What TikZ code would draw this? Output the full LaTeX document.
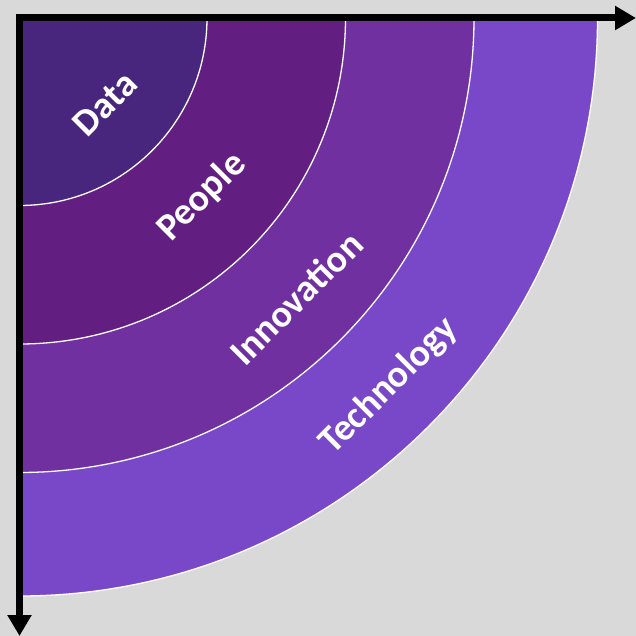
\documentclass[tikz,border=0pt]{standalone}
\usepackage{fontspec}
\setmainfont{Carlito}
\usetikzlibrary{arrows.meta}
\definecolor{bg}{RGB}{217,217,217}
\definecolor{cdata}{RGB}{72,38,125}
\definecolor{cpeople}{RGB}{98,30,128}
\definecolor{cinnov}{RGB}{112,48,160}
\definecolor{ctech}{RGB}{120,72,200}
\tikzset{
  ring/.style={draw=white, line width=1.3pt},
  lbl/.style={text=white, font=\fontsize{38}{38}\selectfont\bfseries, rotate=45, inner sep=0pt},
  axis/.style={line width=7pt, line join=miter, {Triangle[width=23pt,length=21pt]}-{Triangle[width=23pt,length=21pt]}}
}
\begin{document}
\begin{tikzpicture}[x=1pt,y=1pt]
\fill[bg] (0,0) rectangle (636,-636);
\useasboundingbox (0,0) rectangle (636,-636);
\coordinate (O) at (19.5,-18);
\fill[ctech,ring] (O) -- ++(578,0) arc (0:-90:578) -- cycle;
\fill[cinnov,ring] (O) -- ++(454.5,0) arc (0:-90:454.5) -- cycle;
\fill[cpeople,ring] (O) -- ++(326,0) arc (0:-90:326) -- cycle;
\fill[cdata,ring] (O) -- ++(187.5,0) arc (0:-90:187.5) -- cycle;
\node[lbl] (data) at (105,-104) {Data};
\node[lbl] (people) at (202,-197) {People};
\node[lbl] (innov) at (296,-298) {Innovation};
\node[lbl] (tech) at (389,-386) {Technology};
\coordinate (xend) at (636,-18);
\coordinate (yend) at (19.5,-636);
\draw[axis] (yend) -- (O) -- (xend);
\end{tikzpicture}
\end{document}
